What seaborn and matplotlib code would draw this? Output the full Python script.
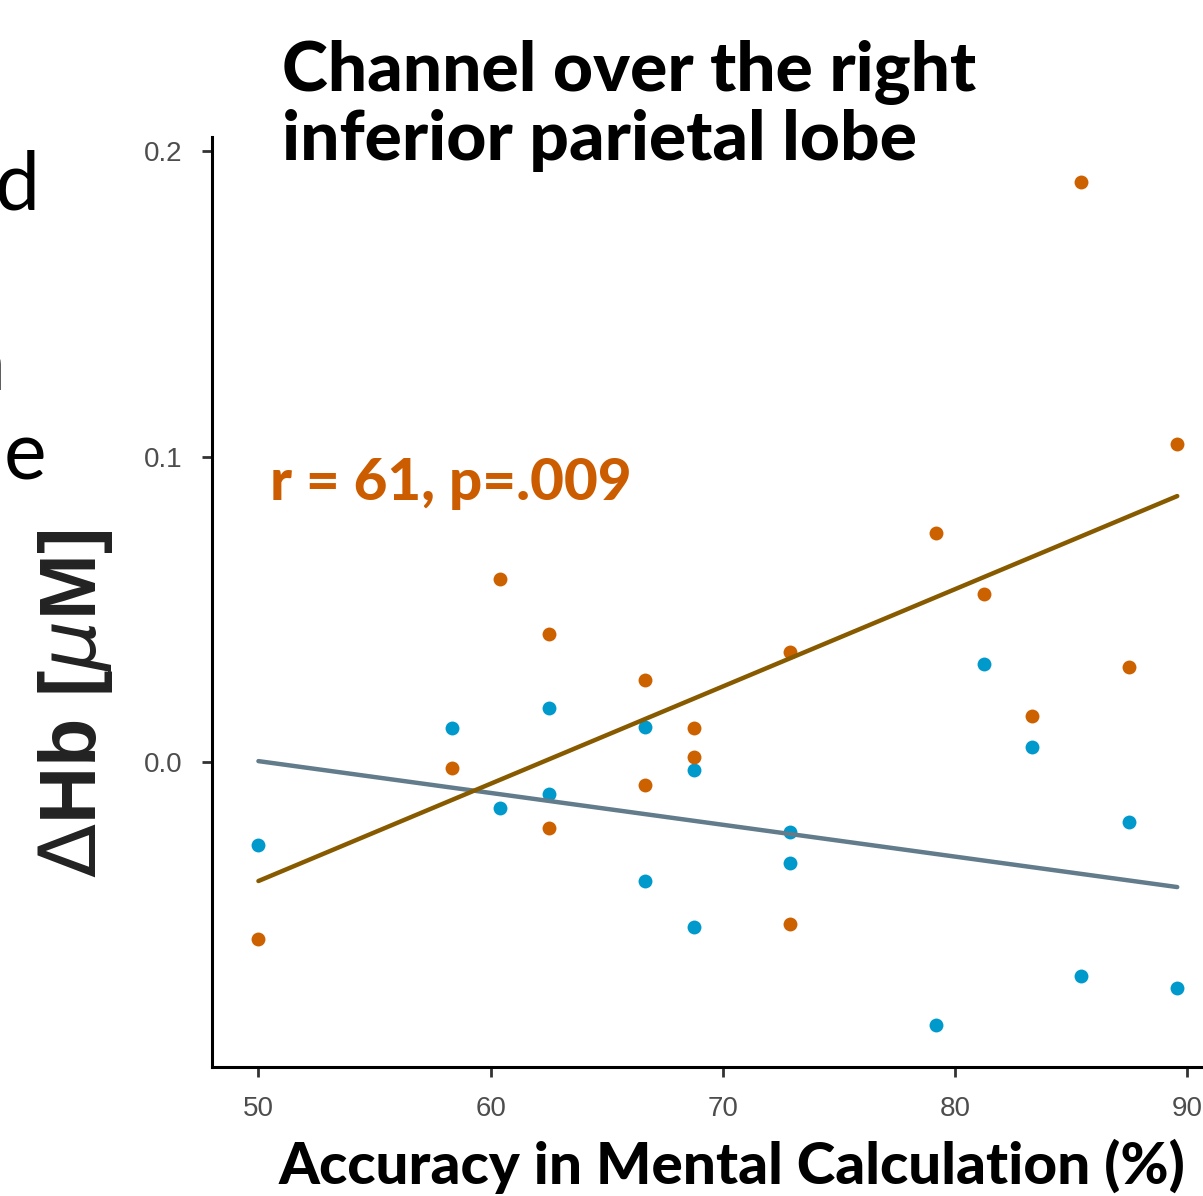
import matplotlib
matplotlib.use("Agg")
import matplotlib.pyplot as plt
import seaborn as sns
import numpy as np
import pandas as pd

# ---- data ----
accuracy = [50.00, 58.33, 60.42, 62.50, 62.50, 66.67, 66.67, 68.75, 68.75,
            72.92, 72.92, 79.17, 81.25, 83.33, 85.42, 87.50, 89.58]
hb_orange = [-0.058, -0.002, 0.060, 0.042, -0.0216, 0.027, -0.0075, 0.011, 0.0016,
             0.036, -0.053, 0.075, 0.055, 0.015, 0.190, 0.031, 0.104]
hb_blue = [-0.027, 0.011, -0.015, 0.0177, -0.0105, 0.0115, -0.039, -0.0026, -0.054,
           -0.023, -0.033, -0.086, 0.032, 0.005, -0.070, -0.0196, -0.074]
x_ticks = [50, 60, 70, 80, 90]
y_ticks = [0.0, 0.1, 0.2]
y_ticklabels = ["0.0", "0.1", "0.2"]

title_text = "Channel over the right\ninferior parietal lobe"
annot_text = "r = 61, p=.009"
xlabel_text = "Accuracy in Mental Calculation (%)"
ylabel_text = r"$\Delta$Hb [$\mu$M]"

df_o = pd.DataFrame({"acc": accuracy, "hb": hb_orange})
df_b = pd.DataFrame({"acc": accuracy, "hb": hb_blue})

sns.set_theme(style="white")
plt.rcParams['font.family'] = ['Lato', 'DejaVu Sans']
plt.rcParams['mathtext.fontset'] = 'dejavusans'

W, H = 1203, 1196
fig = plt.figure(figsize=(W / 100, H / 100), dpi=100)
ax = fig.add_axes([212 / W, (H - 1067) / H, 1 - 212 / W, (1067 - 137) / H])

c_orange_pt = "#CC6100"
c_blue_pt = "#0099CC"
c_orange_ln = "#875A00"
c_blue_ln = "#627C8C"

sns.regplot(data=df_b, x="acc", y="hb", ci=None, ax=ax,
            scatter_kws=dict(color=c_blue_pt, s=100, linewidths=0, alpha=1),
            line_kws=dict(color=c_blue_ln, lw=3.2))
sns.regplot(data=df_o, x="acc", y="hb", ci=None, ax=ax,
            scatter_kws=dict(color=c_orange_pt, s=100, linewidths=0, alpha=1),
            line_kws=dict(color=c_orange_ln, lw=3.2))

ax.set_xlim(48.0, 90.69)
ax.set_ylim(-0.0998, 0.2046)
ax.set_xticks(x_ticks)
ax.set_yticks(y_ticks)
ax.set_yticklabels(y_ticklabels)
ax.set_xlabel("")
ax.set_ylabel("")

for side in ["top", "right"]:
    ax.spines[side].set_visible(False)
for side in ["left", "bottom"]:
    ax.spines[side].set_color("black")
    ax.spines[side].set_linewidth(2.2)

tick_family = ['Liberation Sans Narrow', 'Liberation Sans', 'DejaVu Sans']
ax.tick_params(axis="both", which="both", length=7, width=2, color="#333333",
               labelcolor="#4d4d4d", pad=14, bottom=True, left=True)
for lab in ax.get_xticklabels() + ax.get_yticklabels():
    lab.set_fontfamily(tick_family)
    lab.set_fontsize(20)

# title
fig.text(282 / W, 1 - 40 / H, title_text, ha="left", va="top",
         fontsize=50, fontweight="black", color="black", linespacing=1.08,
         family=['Lato', 'DejaVu Sans'])

# annotation
ax.text(50.5, 0.0857, annot_text, ha="left", va="baseline",
        fontsize=42, fontweight="black", color="#CC5C00",
        family=['Lato', 'DejaVu Sans'])

# x label
fig.text(732 / W, (H - 1184) / H, xlabel_text, ha="center", va="baseline",
         fontsize=42, fontweight="black", color="black",
         family=['Lato', 'DejaVu Sans'])

# y label
fig.text(76 / W, (H - 704) / H, ylabel_text, ha="center", va="center",
         rotation=90, fontsize=57, fontweight="bold", color="#222222",
         family=['Liberation Sans', 'DejaVu Sans'])

# fragments of neighbouring panel text at the left edge
frag_font = dict(fontsize=58, color="black", family=['Lato', 'DejaVu Sans'])
fig.text(40 / W, (H - 209) / H, "d", ha="right", va="baseline", **frag_font)
fig.text(5 / W, (H - 390) / H, "n", ha="right", va="baseline", **frag_font)
fig.text(46 / W, (H - 480) / H, "e", ha="right", va="baseline", **frag_font)

fig.savefig("out.png", dpi=100)
